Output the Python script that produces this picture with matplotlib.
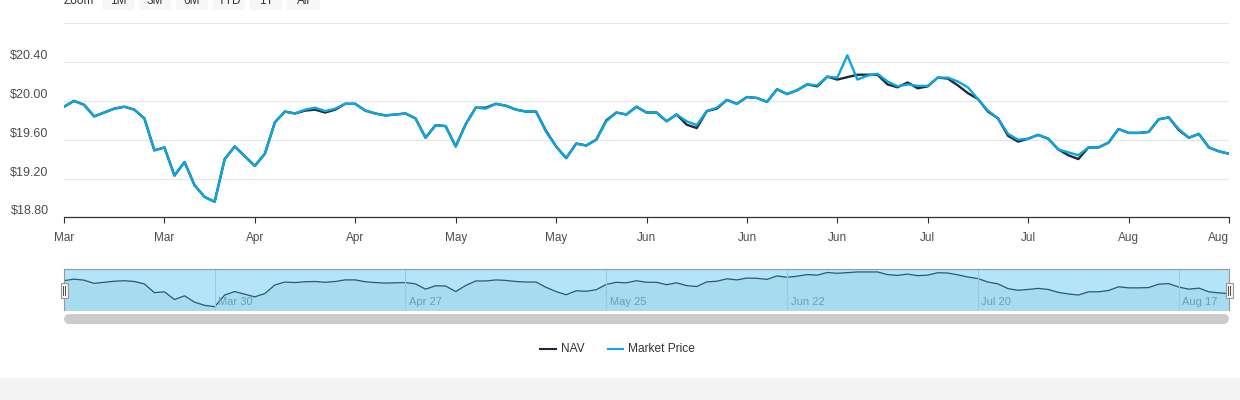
import numpy as np
import matplotlib.pyplot as plt
from matplotlib.lines import Line2D
from matplotlib.patches import Rectangle

plt.rcParams['font.family'] = ['Liberation Sans', 'DejaVu Sans']

# daily values (trading days, Highcharts ordinal axis)
nav = [
    19.94, 20.00, 19.96, 19.84, 19.88, 19.92, 19.94, 19.91, 19.82, 19.49,
    19.52, 19.23, 19.37, 19.13, 19.01, 18.96, 19.40, 19.53, 19.43, 19.33,
    19.455, 19.78, 19.89, 19.87, 19.90, 19.91, 19.88, 19.91, 19.97, 19.97,
    19.90, 19.87, 19.85, 19.86, 19.87, 19.82, 19.62, 19.75, 19.74, 19.53,
    19.76, 19.93, 19.93, 19.97, 19.95, 19.91, 19.89, 19.89, 19.69, 19.53,
    19.41, 19.56, 19.54, 19.60, 19.80, 19.88, 19.86, 19.94, 19.88, 19.88,
    19.79, 19.86, 19.755, 19.72, 19.895, 19.92, 20.01, 19.97, 20.04, 20.03,
    19.99, 20.12, 20.07, 20.11, 20.17, 20.15, 20.25, 20.22, 20.245, 20.27,
    20.27, 20.27, 20.17, 20.14, 20.19, 20.13, 20.15, 20.24, 20.23, 20.16,
    20.08, 20.02, 19.89, 19.82, 19.64, 19.58, 19.61, 19.65, 19.61, 19.50,
    19.44, 19.40, 19.52, 19.52, 19.57, 19.71, 19.67, 19.67, 19.68, 19.81,
    19.83, 19.70, 19.62, 19.66, 19.52, 19.48, 19.455]

market = [
    19.94, 20.00, 19.96, 19.84, 19.88, 19.92, 19.94, 19.91, 19.82, 19.49,
    19.52, 19.23, 19.37, 19.13, 19.01, 18.96, 19.40, 19.53, 19.43, 19.33,
    19.455, 19.78, 19.89, 19.87, 19.91, 19.93, 19.895, 19.92, 19.97, 19.97,
    19.90, 19.87, 19.85, 19.86, 19.87, 19.82, 19.62, 19.75, 19.74, 19.53,
    19.76, 19.93, 19.92, 19.97, 19.95, 19.91, 19.89, 19.89, 19.68, 19.53,
    19.41, 19.56, 19.54, 19.60, 19.79, 19.88, 19.86, 19.94, 19.88, 19.88,
    19.79, 19.86, 19.79, 19.75, 19.895, 19.93, 20.01, 19.97, 20.04, 20.03,
    19.99, 20.12, 20.07, 20.11, 20.17, 20.16, 20.25, 20.24, 20.47, 20.22,
    20.26, 20.28, 20.20, 20.15, 20.17, 20.155, 20.155, 20.24, 20.24, 20.20,
    20.14, 20.02, 19.90, 19.82, 19.66, 19.60, 19.61, 19.65, 19.61, 19.50,
    19.47, 19.44, 19.52, 19.52, 19.57, 19.71, 19.67, 19.67, 19.68, 19.81,
    19.83, 19.71, 19.62, 19.66, 19.52, 19.48, 19.455]

tick_idx = [0, 10, 19, 29, 39, 49, 58, 68, 77, 86, 96, 106, 116]
tick_labels = ['Mar', 'Mar', 'Apr', 'Apr', 'May', 'May', 'Jun', 'Jun', 'Jun',
               'Jul', 'Jul', 'Aug', 'Aug']
y_ticks = [18.8, 19.2, 19.6, 20.0, 20.4, 20.8]
y_labels = ['$18.80', '$19.20', '$19.60', '$20.00', '$20.40', '']
nav_idx = [15, 34, 54, 72, 91, 111]
nav_labels = ['Mar 30', 'Apr 27', 'May 25', 'Jun 22', 'Jul 20', 'Aug 17']
zoom_buttons = ['1M', '3M', '6M', 'YTD', '1Y', 'All']

W, H = 1240, 400
NAV_COL = '#1e2b37'
MKT_COL = '#0ca6e0'


def fx(px):
    return px / W


def fy(py):
    return 1 - py / H


x = np.arange(len(nav))
fig = plt.figure(figsize=(W / 100, H / 100), dpi=100)

# bottom grey band
fig.add_artist(Rectangle((0, 0), 1, fy(378), transform=fig.transFigure,
                         facecolor='#f3f3f3', edgecolor='none'))

# main chart
ax = fig.add_axes([fx(64), fy(217.3), fx(1229) - fx(64), (217.3 - 23.3) / H])
ax.plot(x, nav, color=NAV_COL, lw=1.7, zorder=3)
ax.plot(x, market, color=MKT_COL, lw=1.7, zorder=4)
ax.set_xlim(0, len(nav) - 1)
ax.set_ylim(18.8, 20.8)
ax.set_yticks(y_ticks)
ax.set_yticklabels(y_labels)
ax.set_xticks(tick_idx)
ax.set_xticklabels(tick_labels)
ax.grid(axis='y', color='#e6e6e6', lw=0.8)
ax.set_axisbelow(True)
for s in ['top', 'left', 'right']:
    ax.spines[s].set_visible(False)
ax.spines['bottom'].set_color('#333333')
ax.spines['bottom'].set_linewidth(0.9)
ax.tick_params(axis='y', length=0, pad=11, labelsize=9, labelcolor='#4d4d4d')
ax.tick_params(axis='x', length=4.3, width=0.8, color='#333333', pad=6,
               labelsize=8.5, labelcolor='#4d4d4d')
for lab in ax.get_yticklabels():
    lab.set_va('bottom')
ax.get_xticklabels()[-1].set_ha('right')

# navigator
nv = fig.add_axes([fx(64), fy(310), fx(1229) - fx(64), (310 - 269.3) / H])
nv.set_facecolor('#b3e4f7')
nv.fill_between(x, nav, 18.0, color='#a7dbf0', lw=0)
nv.plot(x, nav, color='#2a5873', lw=0.9)
nv.set_xlim(0, len(nav) - 1)
nv.set_ylim(18.835, 20.37)
nv.set_xticks([])
nv.set_yticks([])
for s in ['top', 'left', 'right']:
    nv.spines[s].set_color('#999999')
    nv.spines[s].set_linewidth(0.8)
nv.spines['bottom'].set_visible(False)
for i, lab in zip(nav_idx, nav_labels):
    nv.axvline(i, color='#93cde4', lw=0.8)
    nv.annotate(lab, (i, 0), xycoords=('data', 'axes fraction'),
                xytext=(2.5, 2), textcoords='offset points',
                fontsize=8, color='#6a9fba', va='bottom')

# navigator handles
for hx in [64, 1229]:
    fig.add_artist(Rectangle((fx(hx - 3.5), fy(297.5)), 7 / W, 15 / H,
                             transform=fig.transFigure, facecolor='#f4f4f4',
                             edgecolor='#999999', lw=0.8, zorder=5))
    for gx in [hx - 1, hx + 1]:
        fig.add_artist(Line2D([fx(gx), fx(gx)], [fy(285.5), fy(294.5)],
                              transform=fig.transFigure, color='#333333',
                              lw=0.6, zorder=6))

# scrollbar
fig.add_artist(Line2D([fx(69), fx(1224)], [fy(318.5), fy(318.5)],
                      transform=fig.transFigure, color='#cccccc', lw=7.2,
                      solid_capstyle='round'))

# legend
fig.add_artist(Line2D([fx(540), fx(555.5)], [fy(348.5), fy(348.5)],
                      transform=fig.transFigure, color=NAV_COL, lw=1.5))
fig.text(fx(561), fy(348.5), 'NAV', fontsize=8.6, color='#333333', va='center')
fig.add_artist(Line2D([fx(607.5), fx(623)], [fy(348.5), fy(348.5)],
                      transform=fig.transFigure, color=MKT_COL, lw=1.5))
fig.text(fx(628), fy(348.5), 'Market Price', fontsize=8.6, color='#333333',
         va='center')

# range selector (scrolled partly out of view at the top, as in the page)
fig.text(fx(64), fy(4.5), 'Zoom', fontsize=8.5, color='#333333', va='baseline')
for k, lab in enumerate(zoom_buttons):
    bx = 101.7 + k * 37.1
    fig.add_artist(Rectangle((fx(bx), fy(10)), 32.3 / W, 12 / H,
                             transform=fig.transFigure, facecolor='#f7f7f7',
                             edgecolor='none'))
    fig.text(fx(bx + 16.15), fy(4.5), lab, fontsize=8.5, color='#333333',
             ha='center', va='baseline')

plt.savefig('out.png', dpi=100)
plt.close()
